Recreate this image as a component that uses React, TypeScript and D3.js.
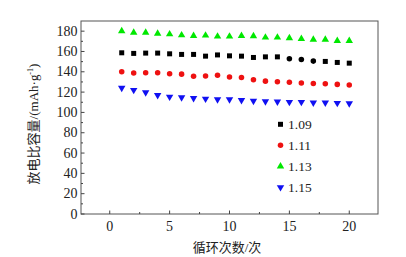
import React from "react";
import * as d3 from "d3";

const cycles = [1, 2, 3, 4, 5, 6, 7, 8, 9, 10, 11, 12, 13, 14, 15, 16, 17, 18, 19, 20];
const s109 = [158.7, 158.1, 158.4, 158.4, 157.7, 157.1, 157.1, 155.4, 156.6, 155.7, 155.4, 154.1, 154.7, 154.7, 152.8, 152.1, 150.5, 150.2, 149.2, 148.5];
const s111 = [140, 138.7, 139, 139, 138, 137.7, 135.7, 135.9, 136.7, 134.8, 134.3, 132.1, 130.8, 130.1, 129.8, 128.9, 128.5, 128.2, 127.6, 126.9];
const s113 = [180, 178.7, 178.7, 177.7, 177, 176, 175.4, 175.8, 174.8, 174.8, 175.4, 175.1, 173.8, 173.8, 173.1, 172.4, 171.8, 171.8, 170.5, 170.5];
const s115 = [124.2, 122, 119.7, 117, 115.4, 114.8, 114.1, 113.4, 112.8, 112.8, 112.1, 111.4, 110.8, 110.5, 110.2, 110.2, 109.5, 109.5, 109.2, 108.9];
// marker shape per point of the 1.09 series (the reference shows a few round ones)
const shape109 = ["s","s","s","s","s","s","s","s","s","s","s","s","s","s","c","c","c","s","s","s"];

const seriesNames = ["1.09", "1.11", "1.13", "1.15"];
const xTicks = [0, 5, 10, 15, 20];
const yTicks = [0, 20, 40, 60, 80, 100, 120, 140, 160, 180];

const W = 406, H = 257;
const left = 81, right = 378, top = 21, bottom = 214;

const x = d3.scaleLinear().domain([-2.4, 22.4]).range([left, right]);
const y = d3.scaleLinear().domain([0, 190]).range([bottom, top]);

const colors = ["#000000", "#ee1111", "#00e800", "#1010f2"];

const sq = d3.symbol().type(d3.symbolSquare).size(25)();
const circ = d3.symbol().type(d3.symbolCircle).size(24)();
const tri = d3.symbol().type(d3.symbolTriangle).size(24)();

function Marker({ kind, cx, cy, color }: { kind: string; cx: number; cy: number; color: string }) {
  if (kind === "s") return <path d={sq!} transform={`translate(${cx},${cy})`} fill={color} />;
  if (kind === "c") return <path d={circ!} transform={`translate(${cx},${cy})`} fill={color} />;
  if (kind === "t") return <path d={tri!} transform={`translate(${cx},${cy})`} fill={color} />;
  return <path d={tri!} transform={`translate(${cx},${cy}) rotate(180)`} fill={color} />;
}

export default function App() {
  const series = [
    { vals: s109, kinds: shape109, color: colors[0] },
    { vals: s111, kinds: cycles.map(() => "c"), color: colors[1] },
    { vals: s113, kinds: cycles.map(() => "t"), color: colors[2] },
    { vals: s115, kinds: cycles.map(() => "v"), color: colors[3] },
  ];
  const legendKinds = ["s", "c", "t", "v"];
  const minorX = d3.range(-2.5, 22.5, 2.5).filter((v) => v > -2.4 && v < 22.4 && v % 5 !== 0);
  const minorY = d3.range(10, 190, 20);
  const font = "'Liberation Serif', 'Times New Roman', serif";
  const cjk = "'Liberation Serif', 'Noto Sans CJK SC', serif";
  return (
    <svg width={W} height={H} style={{ position: "absolute", left: 0, top: 0, background: "#fff" }}>
      <rect x={left} y={top} width={right - left} height={bottom - top} fill="none" stroke="#555" strokeWidth={1} />
      {xTicks.map((t) => (
        <g key={"xt" + t}>
          <line x1={x(t)} x2={x(t)} y1={bottom} y2={bottom - 3.5} stroke="#444" />
          <text x={x(t)} y={bottom + 17} textAnchor="middle" fontFamily={font} fontSize={14} fill="#222">{t}</text>
        </g>
      ))}
      {minorX.map((t) => (
        <line key={"xm" + t} x1={x(t)} x2={x(t)} y1={bottom} y2={bottom - 2} stroke="#444" />
      ))}
      {yTicks.map((t) => (
        <g key={"yt" + t}>
          <line x1={left} x2={left + 3.5} y1={y(t)} y2={y(t)} stroke="#444" />
          <text x={left - 3.5} y={y(t) + 4.5} textAnchor="end" fontFamily={font} fontSize={14} fill="#222">{t}</text>
        </g>
      ))}
      {minorY.map((t) => (
        <line key={"ym" + t} x1={left} x2={left + 2} y1={y(t)} y2={y(t)} stroke="#444" />
      ))}
      {series.map((s, si) =>
        s.vals.map((v, i) => (
          <Marker key={si + "-" + i} kind={s.kinds[i]} cx={x(cycles[i])} cy={y(v)} color={s.color} />
        ))
      )}
      {seriesNames.map((n, i) => (
        <g key={n}>
          <Marker kind={legendKinds[i]} cx={280.5} cy={124.3 + i * 21} color={colors[i]} />
          <text x={288} y={124.3 + i * 21 + 4.5} fontFamily={font} fontSize={13.5} fill="#222">{n}</text>
        </g>
      ))}
      <text x={227} y={252} textAnchor="middle" fontFamily={cjk} fontSize={13} fill="#222">循环次数/次</text>
      <text transform="translate(38,124) rotate(-90)" textAnchor="middle" fontFamily={cjk} fontSize={13} fill="#222">
        放电比容量/(mAh·g<tspan dy={-5} fontSize={8}>-1</tspan><tspan dy={5}>)</tspan>
      </text>
    </svg>
  );
}
